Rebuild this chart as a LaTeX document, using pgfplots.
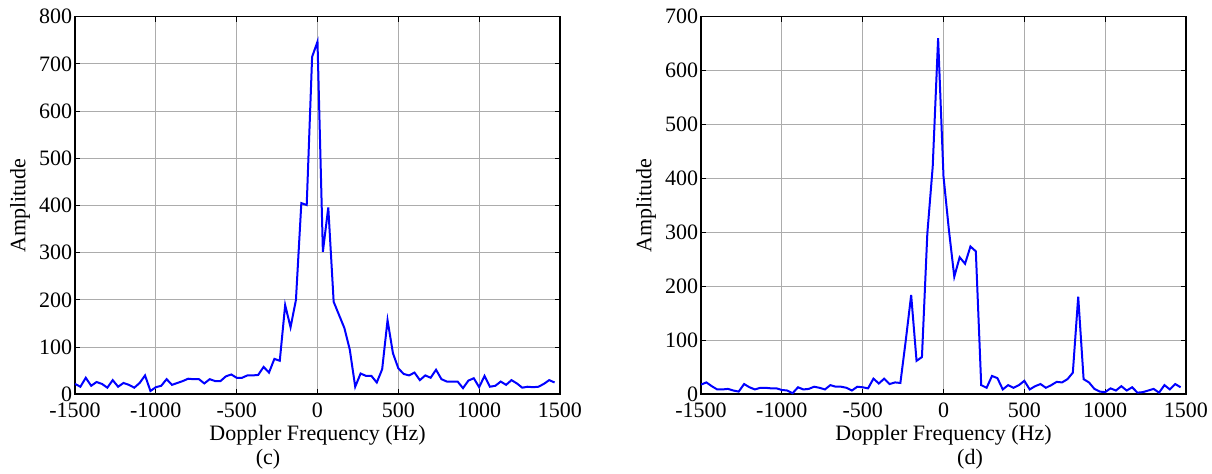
\documentclass[border=0pt]{standalone}
\usepackage{fontspec}
\setmainfont{Liberation Serif}
\usepackage{pgfplots}
\usepackage{pgfplotstable}
\pgfplotsset{compat=1.18}

% Doppler spectra, (c) and (d)
\pgfplotstableread{
f c d
-1500 22 18
-1466.7 16 22
-1433.3 35 15
-1400 18 9
-1366.7 26 9
-1333.3 22 10
-1300 14 7
-1266.7 30 5
-1233.3 16 19
-1200 24 13
-1166.7 20 9
-1133.3 14 12
-1100 24 12
-1066.7 40 11
-1033.3 7 11
-1000 15 8
-966.7 18 7
-933.3 32 2
-900 20 13
-866.7 24 9
-833.3 28 10
-800 33 14
-766.7 32 12
-733.3 32 9
-700 23 17
-666.7 32 14
-633.3 28 14
-600 28 12
-566.7 38 7
-533.3 42 14
-500 35 13
-466.7 35 11
-433.3 40 29
-400 40 20
-366.7 41 29
-333.3 58 19
-300 46 22
-266.7 75 21
-233.3 71 100
-200 189 184
-166.7 142 62
-133.3 200 69
-100 405 298
-66.7 401 422
-33.3 715 660
0 747 404
33.3 302 305
66.7 396 218
100 196 254
133.3 168 242
166.7 140 274
200 94 265
233.3 16 17
266.7 44 12
300 39 34
333.3 39 30
366.7 25 9
400 53 17
433.3 157 12
466.7 87 17
500 55 25
533.3 43 9
566.7 40 15
600 46 19
633.3 30 12
666.7 40 17
700 35 23
733.3 52 22
766.7 32 28
800 27 40
833.3 27 181
866.7 27 28
900 13 22
933.3 29 10
966.7 34 5
1000 15 4
1033.3 39 11
1066.7 16 7
1100 18 15
1133.3 27 7
1166.7 20 13
1200 30 3
1233.3 23 4
1266.7 14 7
1300 16 10
1333.3 15 3
1366.7 16 17
1400 22 9
1433.3 30 19
1466.7 25 13
}\spec

\pgfplotsset{
  matstyle/.style={
    scale only axis,
    width=242.5pt, height=188.8pt,
    anchor=south west,
    xmin=-1500, xmax=1500, ymin=0,
    xtick={-1500,-1000,-500,0,500,1000,1500},
    grid=major,
    major grid style={gray!65, line width=0.5pt},
    axis line style={line width=0.8pt},
    tick style={black, line width=0.5pt},
    major tick length=2.5pt,
    tick align=inside,
    font=\fontsize{11}{13}\selectfont,
    /pgf/number format/assume math mode=true,
    /pgf/number format/1000 sep={},
    xticklabel style={yshift=-1pt},
    yticklabel style={inner xsep=1.2pt},
    xlabel={Doppler Frequency (Hz)},
    ylabel={Amplitude},
    xlabel style={at={(axis description cs:0.5,-0.108)}, anchor=center},
    ylabel style={at={(axis description cs:-0.1134,0.5)}, anchor=center},
  },
}

\begin{document}
\begin{tikzpicture}
\useasboundingbox (0,0) rectangle (606pt,237pt);

\begin{axis}[matstyle, at={(37.5pt,39.85pt)}, ymax=800,
    ytick={0,100,...,800}]
\addplot[blue, line width=1pt] table[x=f, y=c] {\spec};
\end{axis}

\begin{axis}[matstyle, at={(350.5pt,39.85pt)}, ymax=700,
    ytick={0,100,...,700}]
\addplot[blue, line width=1pt] table[x=f, y=d] {\spec};
\end{axis}

\node[font=\fontsize{11}{13}\selectfont] at (134pt,7.5pt) {(c)};
\node[font=\fontsize{11}{13}\selectfont] at (485pt,7.5pt) {(d)};
\end{tikzpicture}
\end{document}
